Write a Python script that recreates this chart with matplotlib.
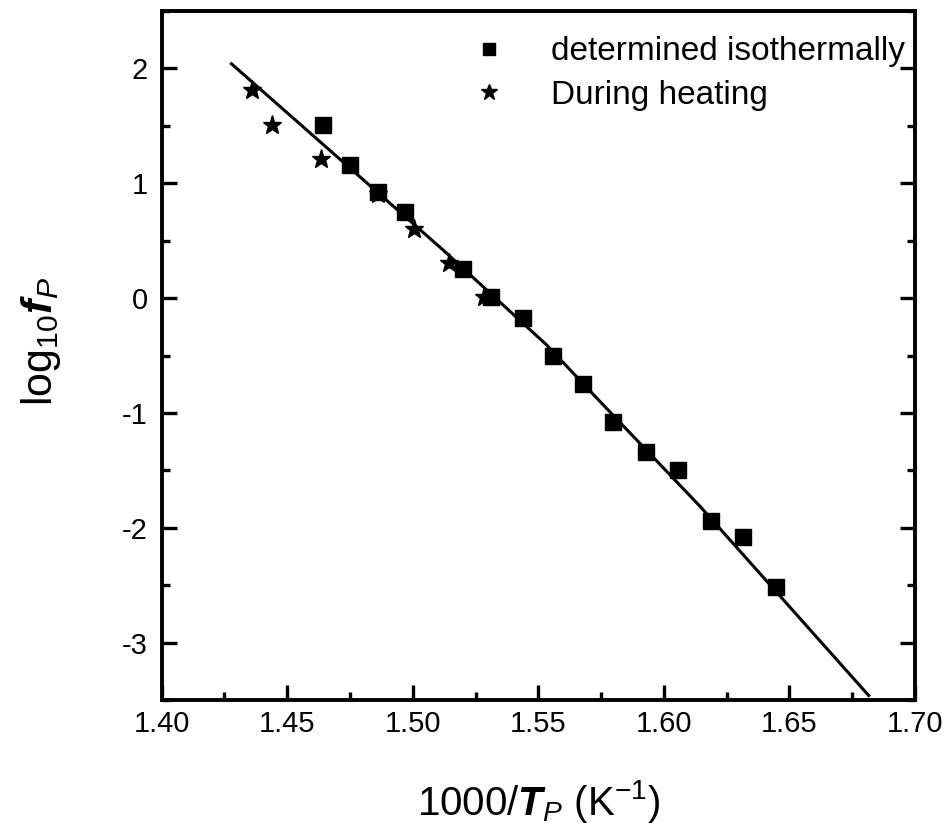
import matplotlib
matplotlib.use("Agg")
import matplotlib.pyplot as plt
from matplotlib.ticker import MultipleLocator

plt.rcParams['font.family'] = ['Liberation Sans', 'DejaVu Sans']
plt.rcParams['axes.unicode_minus'] = False
plt.rcParams['mathtext.fontset'] = 'custom'
plt.rcParams['mathtext.rm'] = 'Liberation Sans'
plt.rcParams['mathtext.it'] = 'Liberation Sans:italic'
plt.rcParams['mathtext.bf'] = 'Liberation Sans:bold'
plt.rcParams['mathtext.bfit'] = 'Liberation Sans:bold:italic'

# isothermal peak frequencies
iso_x = [1.4643, 1.4752, 1.4861, 1.4971, 1.5202, 1.5313, 1.5438, 1.5560,
         1.5679, 1.5798, 1.5929, 1.6056, 1.6188, 1.6315, 1.6447]
iso_y = [1.51, 1.16, 0.92, 0.75, 0.25, 0.01, -0.17, -0.50,
         -0.75, -1.08, -1.34, -1.50, -1.94, -2.08, -2.52]

# peaks picked up during heating
heat_x = [1.4360, 1.4441, 1.4636, 1.4861, 1.5004, 1.5146, 1.5285]
heat_y = [1.81, 1.51, 1.21, 0.91, 0.60, 0.31, 0.01]

# VFT fit curve
fit_x = [1.4278, 1.5122, 1.5534, 1.5740, 1.6145, 1.6816]
fit_y = [2.041, 0.417, -0.409, -0.887, -1.815, -3.461]

fig = plt.figure(figsize=(9.51, 8.34), dpi=100)
ax = fig.add_axes([0.170, 0.1607, 0.792, 0.826])

ax.plot(fit_x, fit_y, color='black', lw=2.2, zorder=2)
ax.plot(iso_x, iso_y, ls='none', marker='s', ms=11.5, color='black',
        label='determined isothermally', zorder=3)
ax.plot(heat_x, heat_y, ls='none', marker='*', ms=14, color='black',
        label='During heating', zorder=3)

ax.set_xlim(1.40, 1.70)
ax.set_ylim(-3.5, 2.5)
ax.xaxis.set_minor_locator(MultipleLocator(0.025))
ax.yaxis.set_major_locator(MultipleLocator(1))
ax.yaxis.set_minor_locator(MultipleLocator(0.5))
ax.set_xticks([1.40, 1.45, 1.50, 1.55, 1.60, 1.65, 1.70])
ax.set_xticklabels(['1.40', '1.45', '1.50', '1.55', '1.60', '1.65', '1.70'])

ax.tick_params(which='both', direction='in', right=True, top=False,
               width=2.4, labelsize=21)
ax.tick_params(axis='x', pad=7)
ax.tick_params(axis='y', pad=10)
ax.tick_params(which='major', length=11)
ax.tick_params(which='minor', length=5.5)
for s in ax.spines.values():
    s.set_linewidth(2.8)

ax.set_xlabel(r'1000/$\mathbfit{T}_{P}$ (K$^{-1}$)', fontsize=29, labelpad=29)
ax.set_ylabel(r'log$_{10}$$\mathbfit{f}_{P}$', fontsize=31)
ax.yaxis.set_label_coords(-0.131, 0.52)

leg = ax.legend(loc='upper right', frameon=False, fontsize=24,
                handlelength=1.5, handletextpad=1.1, borderpad=0.2,
                borderaxespad=0.1, labelspacing=0.37,
                bbox_to_anchor=(1.0, 0.978))
leg.legend_handles[0].set_markersize(8.5)
leg.legend_handles[1].set_markersize(12)

fig.savefig('out.png', dpi=100)
